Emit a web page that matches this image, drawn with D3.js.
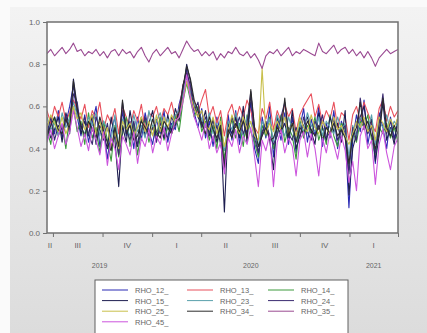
<!DOCTYPE html>
<html>
<head>
<meta charset="utf-8">
<script src="https://cdn.jsdelivr.net/npm/d3@7"></script>
<style>
  body { margin: 0; background: #fff; }
  text { font-family: "Liberation Sans", Arial, sans-serif; }
</style>
</head>
<body>
<svg id="chart"></svg>
<script>
// weekly observations, starting date of the sample
const startDate = new Date(2019, 5, 20);

const seriesNames = ["RHO_12_", "RHO_13_", "RHO_14_", "RHO_15_", "RHO_23_",
                     "RHO_24_", "RHO_25_", "RHO_34_", "RHO_35_", "RHO_45_"];

const rho12 = [0.44,0.53,0.47,0.58,0.45,0.52,0.60,0.70,0.55,0.46,
  0.56,0.43,0.52,0.60,0.41,0.50,0.35,0.48,0.55,0.38,
  0.58,0.46,0.53,0.40,0.55,0.44,0.57,0.48,0.42,0.54,
  0.47,0.58,0.43,0.52,0.49,0.61,0.68,0.78,0.66,0.57,
  0.50,0.59,0.45,0.53,0.41,0.55,0.47,0.30,0.56,0.44,
  0.58,0.42,0.54,0.47,0.62,0.40,0.33,0.55,0.45,0.60,
  0.36,0.52,0.44,0.57,0.42,0.55,0.38,0.50,0.59,0.43,
  0.54,0.46,0.60,0.41,0.52,0.45,0.58,0.40,0.53,0.47,
  0.12,0.44,0.56,0.48,0.63,0.42,0.52,0.33,0.57,0.50,
  0.40,0.55,0.45,0.52];
const rho13 = [0.58,0.52,0.60,0.55,0.62,0.53,0.57,0.63,0.59,0.54,
  0.61,0.50,0.58,0.54,0.62,0.49,0.56,0.52,0.59,0.47,
  0.60,0.55,0.50,0.58,0.53,0.61,0.49,0.57,0.55,0.60,
  0.52,0.59,0.56,0.62,0.54,0.58,0.70,0.76,0.68,0.62,
  0.57,0.63,0.68,0.55,0.60,0.52,0.58,0.46,0.57,0.61,
  0.53,0.60,0.55,0.63,0.58,0.50,0.47,0.59,0.54,0.62,
  0.49,0.58,0.53,0.61,0.55,0.59,0.48,0.56,0.60,0.63,
  0.66,0.55,0.61,0.52,0.58,0.54,0.62,0.50,0.57,0.55,
  0.44,0.56,0.60,0.53,0.62,0.57,0.52,0.48,0.59,0.63,
  0.53,0.60,0.55,0.58];
const rho14 = [0.49,0.42,0.55,0.46,0.51,0.40,0.56,0.60,0.48,0.53,
  0.42,0.57,0.45,0.50,0.38,0.53,0.44,0.34,0.51,0.36,
  0.47,0.55,0.41,0.52,0.37,0.49,0.54,0.43,0.51,0.46,
  0.55,0.44,0.50,0.47,0.56,0.48,0.62,0.71,0.63,0.55,
  0.60,0.48,0.53,0.44,0.51,0.40,0.55,0.35,0.47,0.54,
  0.45,0.52,0.41,0.56,0.48,0.43,0.36,0.51,0.46,0.55,
  0.40,0.47,0.56,0.43,0.50,0.46,0.35,0.53,0.45,0.51,
  0.47,0.55,0.44,0.50,0.42,0.56,0.46,0.41,0.52,0.49,
  0.30,0.48,0.43,0.53,0.50,0.56,0.44,0.37,0.50,0.47,
  0.52,0.45,0.50,0.43];
const rho15 = [0.52,0.45,0.49,0.55,0.43,0.57,0.50,0.73,0.60,0.47,
  0.53,0.46,0.56,0.42,0.51,0.47,0.40,0.55,0.44,0.22,
  0.51,0.43,0.58,0.47,0.41,0.55,0.46,0.52,0.58,0.44,
  0.50,0.45,0.56,0.48,0.59,0.53,0.65,0.80,0.72,0.60,
  0.55,0.51,0.58,0.46,0.54,0.43,0.50,0.10,0.52,0.47,
  0.55,0.45,0.60,0.43,0.66,0.49,0.38,0.47,0.53,0.44,
  0.30,0.55,0.48,0.52,0.44,0.58,0.40,0.46,0.51,0.55,
  0.48,0.42,0.57,0.50,0.44,0.55,0.48,0.52,0.43,0.58,
  0.18,0.40,0.47,0.55,0.60,0.48,0.54,0.34,0.46,0.62,
  0.44,0.50,0.42,0.56];
const rho23 = [0.55,0.49,0.52,0.46,0.57,0.50,0.54,0.62,0.56,0.50,
  0.47,0.55,0.51,0.57,0.46,0.53,0.49,0.44,0.56,0.41,
  0.54,0.50,0.46,0.56,0.48,0.51,0.45,0.58,0.50,0.53,
  0.57,0.49,0.54,0.50,0.56,0.58,0.66,0.74,0.67,0.61,
  0.58,0.54,0.50,0.57,0.47,0.52,0.45,0.39,0.53,0.49,
  0.57,0.50,0.46,0.55,0.52,0.47,0.41,0.53,0.49,0.54,
  0.43,0.56,0.50,0.46,0.55,0.49,0.44,0.52,0.48,0.57,
  0.51,0.48,0.55,0.46,0.53,0.50,0.47,0.55,0.49,0.52,
  0.36,0.51,0.46,0.55,0.52,0.49,0.56,0.42,0.53,0.50,
  0.56,0.48,0.53,0.50];
const rho24 = [0.47,0.55,0.44,0.51,0.49,0.56,0.47,0.66,0.62,0.49,
  0.55,0.47,0.42,0.55,0.49,0.44,0.52,0.40,0.47,0.37,
  0.62,0.49,0.44,0.53,0.42,0.48,0.55,0.46,0.50,0.43,
  0.52,0.48,0.45,0.55,0.51,0.56,0.70,0.76,0.70,0.58,
  0.62,0.50,0.55,0.48,0.44,0.51,0.42,0.33,0.46,0.55,
  0.50,0.55,0.47,0.52,0.67,0.45,0.38,0.48,0.52,0.46,
  0.42,0.46,0.55,0.62,0.47,0.44,0.50,0.45,0.55,0.48,
  0.44,0.53,0.49,0.56,0.45,0.48,0.54,0.44,0.48,0.51,
  0.28,0.50,0.44,0.64,0.52,0.47,0.51,0.38,0.52,0.66,
  0.47,0.53,0.44,0.48];
const rho25 = [0.50,0.56,0.52,0.48,0.55,0.47,0.52,0.60,0.54,0.57,
  0.49,0.52,0.56,0.47,0.53,0.45,0.50,0.41,0.48,0.40,
  0.53,0.49,0.52,0.46,0.50,0.55,0.48,0.53,0.46,0.56,
  0.48,0.55,0.50,0.56,0.52,0.55,0.63,0.72,0.65,0.59,
  0.55,0.58,0.51,0.49,0.55,0.47,0.53,0.41,0.48,0.56,
  0.51,0.47,0.55,0.49,0.53,0.46,0.44,0.78,0.47,0.52,
  0.48,0.53,0.49,0.55,0.47,0.52,0.46,0.55,0.50,0.48,
  0.56,0.50,0.47,0.53,0.50,0.46,0.55,0.49,0.51,0.46,
  0.42,0.47,0.53,0.50,0.55,0.48,0.51,0.44,0.55,0.52,
  0.48,0.54,0.50,0.55];
const rho34 = [0.46,0.51,0.55,0.49,0.47,0.54,0.49,0.72,0.58,0.51,
  0.46,0.53,0.49,0.45,0.55,0.48,0.43,0.39,0.50,0.41,
  0.63,0.47,0.51,0.44,0.46,0.53,0.50,0.47,0.54,0.48,
  0.45,0.53,0.50,0.47,0.52,0.57,0.69,0.79,0.73,0.63,
  0.58,0.52,0.47,0.55,0.49,0.45,0.51,0.30,0.49,0.45,
  0.52,0.48,0.53,0.45,0.68,0.50,0.41,0.46,0.50,0.44,
  0.45,0.50,0.47,0.64,0.46,0.52,0.43,0.50,0.47,0.53,
  0.49,0.46,0.51,0.44,0.50,0.47,0.52,0.46,0.49,0.45,
  0.33,0.46,0.50,0.62,0.49,0.53,0.46,0.40,0.47,0.64,
  0.50,0.46,0.51,0.47];
const rho35 = [0.85,0.87,0.84,0.86,0.88,0.85,0.87,0.90,0.86,0.87,
  0.84,0.86,0.85,0.87,0.84,0.86,0.83,0.86,0.87,0.84,
  0.87,0.85,0.86,0.83,0.86,0.88,0.84,0.81,0.85,0.87,
  0.84,0.86,0.88,0.85,0.86,0.83,0.87,0.91,0.88,0.86,
  0.87,0.84,0.86,0.84,0.86,0.82,0.85,0.83,0.86,0.85,
  0.88,0.85,0.84,0.86,0.83,0.85,0.82,0.78,0.84,0.86,
  0.85,0.87,0.84,0.86,0.88,0.84,0.86,0.85,0.87,0.86,
  0.85,0.84,0.90,0.86,0.85,0.87,0.89,0.85,0.87,0.88,
  0.85,0.87,0.84,0.86,0.83,0.86,0.83,0.79,0.83,0.85,
  0.87,0.85,0.86,0.87];
const rho45 = [0.43,0.49,0.40,0.46,0.52,0.42,0.48,0.58,0.50,0.41,
  0.47,0.39,0.50,0.44,0.37,0.48,0.32,0.45,0.40,0.30,
  0.46,0.42,0.37,0.48,0.33,0.45,0.41,0.49,0.38,0.46,
  0.42,0.50,0.39,0.47,0.53,0.55,0.62,0.75,0.64,0.55,
  0.50,0.44,0.52,0.40,0.46,0.38,0.43,0.28,0.45,0.41,
  0.49,0.38,0.46,0.42,0.50,0.36,0.22,0.44,0.39,0.47,
  0.22,0.43,0.49,0.38,0.45,0.41,0.27,0.44,0.48,0.36,
  0.47,0.40,0.27,0.45,0.38,0.48,0.42,0.35,0.46,0.39,
  0.24,0.34,0.20,0.46,0.51,0.40,0.44,0.23,0.42,0.49,
  0.38,0.30,0.41,0.45];

const yTicks = [0.0, 0.2, 0.4, 0.6, 0.8, 1.0];
const quarterLabels = ["II", "III", "IV", "I", "II", "III", "IV", "I"];
const yearLabels = ["2019", "2020", "2021"];

const allSeries = [rho12, rho13, rho14, rho15, rho23, rho24, rho25, rho34, rho35, rho45];
const colors = ["#2a2ab4", "#e8505c", "#3c9a3c", "#1e1e50", "#5aa0ac",
                "#3a2a70", "#c8bf4a", "#2c2c2c", "#9a4a92", "#cc55dd"];

const dates = rho12.map((_, i) => d3.timeDay.offset(startDate, 7 * i));

const svgWidth = 427;
const svgHeight = 333;
const plot = { left: 47, top: 22, right: 398, bottom: 233 };

const svg = d3.select("#chart")
  .attr("width", svgWidth)
  .attr("height", svgHeight);

// grey panel behind the graph
const grad = svg.append("defs").append("linearGradient")
  .attr("id", "bg").attr("x1", 0).attr("y1", 0).attr("x2", 0).attr("y2", 1);
grad.append("stop").attr("offset", "0%").attr("stop-color", "#f3f3f3");
grad.append("stop").attr("offset", "100%").attr("stop-color", "#dcdcdc");

svg.append("rect").attr("width", svgWidth).attr("height", svgHeight).attr("fill", "#fafafa");
svg.append("rect")
  .attr("x", 10).attr("y", 7)
  .attr("width", svgWidth - 10).attr("height", svgHeight - 7)
  .attr("fill", "url(#bg)");

svg.select("defs").append("clipPath").attr("id", "clip")
  .append("rect")
  .attr("x", plot.left).attr("y", plot.top)
  .attr("width", plot.right - plot.left).attr("height", plot.bottom - plot.top);

// scales
const x = d3.scaleTime()
  .domain([dates[0], dates[dates.length - 1]])
  .range([plot.left, plot.right]);

const y = d3.scaleLinear()
  .domain([0, 1])
  .range([plot.bottom, plot.top]);

svg.append("rect")
  .attr("x", plot.left).attr("y", plot.top)
  .attr("width", plot.right - plot.left).attr("height", plot.bottom - plot.top)
  .attr("fill", "#fff");

// lines
const line = d3.line()
  .x((d, i) => x(dates[i]))
  .y(d => y(d));

svg.append("g")
  .attr("clip-path", "url(#clip)")
  .selectAll("path")
  .data(allSeries)
  .enter().append("path")
  .attr("d", d => line(d))
  .attr("fill", "none")
  .attr("stroke", (d, i) => colors[i])
  .attr("stroke-width", 1.1)
  .attr("stroke-linejoin", "round");

// frame
svg.append("rect")
  .attr("x", plot.left).attr("y", plot.top)
  .attr("width", plot.right - plot.left).attr("height", plot.bottom - plot.top)
  .attr("fill", "none")
  .attr("stroke", "#707070")
  .attr("stroke-width", 1.5);

// y axis
const yAxis = svg.append("g")
  .attr("transform", `translate(${plot.left},0)`)
  .call(d3.axisLeft(y).tickValues(yTicks).tickFormat(d3.format(".1f")).tickSize(4).tickPadding(3));
yAxis.select(".domain").remove();
yAxis.selectAll("line").attr("stroke", "#707070");
yAxis.selectAll("text").attr("fill", "#666").style("font-size", "8px");

// x axis: quarter ticks, labels in the middle of each quarter
const quarterStarts = d3.timeMonth.every(3).range(dates[0], d3.timeDay.offset(dates[dates.length - 1], 1));
const xAxis = svg.append("g")
  .attr("transform", `translate(0,${plot.bottom})`)
  .call(d3.axisBottom(x).tickValues(quarterStarts).tickFormat("").tickSize(4));
xAxis.select(".domain").remove();
xAxis.selectAll("line").attr("stroke", "#707070");

const domain = x.domain();
const quarterBounds = [domain[0]].concat(quarterStarts.filter(d => d > domain[0] && d < domain[1]), [domain[1]]);
svg.append("g").selectAll("text")
  .data(quarterLabels)
  .enter().append("text")
  .attr("x", (d, i) => (x(quarterBounds[i]) + x(quarterBounds[i + 1])) / 2)
  .attr("y", plot.bottom + 15)
  .attr("text-anchor", "middle")
  .attr("fill", "#666")
  .style("font-size", "8px")
  .text(d => d);

const yearStarts = d3.timeYear.range(d3.timeDay.offset(domain[0], 1), domain[1]);
const yearBounds = [domain[0]].concat(yearStarts, [domain[1]]);
svg.append("g").selectAll("text")
  .data(yearLabels)
  .enter().append("text")
  .attr("x", (d, i) => (x(yearBounds[i]) + x(yearBounds[i + 1])) / 2)
  .attr("y", plot.bottom + 35)
  .attr("text-anchor", "middle")
  .attr("fill", "#666")
  .style("font-size", "7px")
  .text(d => d);

// legend
const legend = svg.append("g");
legend.append("rect")
  .attr("x", 95).attr("y", 280)
  .attr("width", 253).attr("height", 60)
  .attr("fill", "#fff")
  .attr("stroke", "#606060")
  .attr("stroke-width", 1);

const colX = [102, 187, 268];
const items = legend.selectAll("g.item")
  .data(seriesNames)
  .enter().append("g")
  .attr("transform", (d, i) => `translate(${colX[i % 3]},${290 + Math.floor(i / 3) * 10.6})`);
items.append("line")
  .attr("x1", 0).attr("x2", 26)
  .attr("stroke", (d, i) => colors[i])
  .attr("stroke-width", 1);
items.append("text")
  .attr("x", 33).attr("y", 3)
  .attr("fill", "#666")
  .style("font-size", "7.5px")
  .text(d => d);
</script>
</body>
</html>
